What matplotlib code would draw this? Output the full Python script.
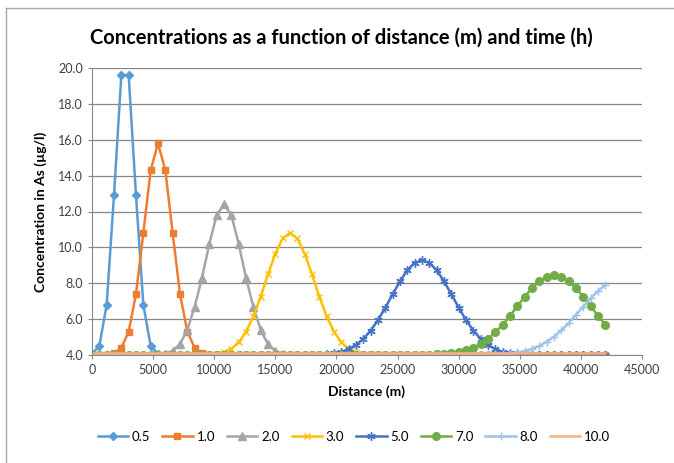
import matplotlib
matplotlib.use("Agg")
from matplotlib import pyplot as plt
from matplotlib.lines import Line2D

plt.rcParams['font.family'] = ['Lato', 'DejaVu Sans']

# sample distances (m)
distance_m = [
    0, 600, 1200, 1800, 2400, 3000, 3600, 4200, 4800, 5400,
    6000, 6600, 7200, 7800, 8400, 9000, 9600, 10200, 10800, 11400,
    12000, 12600, 13200, 13800, 14400, 15000, 15600, 16200, 16800, 17400,
    18000, 18600, 19200, 19800, 20400, 21000, 21600, 22200, 22800, 23400,
    24000, 24600, 25200, 25800, 26400, 27000, 27600, 28200, 28800, 29400,
    30000, 30600, 31200, 31800, 32400, 33000, 33600, 34200, 34800, 35400,
    36000, 36600, 37200, 37800, 38400, 39000, 39600, 40200, 40800, 41400,
    42000,
]

# concentration in As (ug/l) per time (h)
c_05 = [
    4.06, 4.5, 6.8, 12.9, 19.6, 19.6, 12.9, 6.8, 4.5, 4.06,
    4.0, 4.0, 4.0, 4.0, 4.0, 4.0, 4.0, 4.0, 4.0, 4.0,
    4.0, 4.0, 4.0, 4.0, 4.0, 4.0, 4.0, 4.0, 4.0, 4.0,
    4.0, 4.0, 4.0, 4.0, 4.0, 4.0, 4.0, 4.0, 4.0, 4.0,
    4.0, 4.0, 4.0, 4.0, 4.0, 4.0, 4.0, 4.0, 4.0, 4.0,
    4.0, 4.0, 4.0, 4.0, 4.0, 4.0, 4.0, 4.0, 4.0, 4.0,
    4.0, 4.0, 4.0, 4.0, 4.0, 4.0, 4.0, 4.0, 4.0, 4.0,
    4.0,
]
c_10 = [
    4.0, 4.0, 4.02, 4.09, 4.4, 5.3, 7.4, 10.8, 14.3, 15.8,
    14.3, 10.8, 7.4, 5.3, 4.4, 4.09, 4.02, 4.0, 4.0, 4.0,
    4.0, 4.0, 4.0, 4.0, 4.0, 4.0, 4.0, 4.0, 4.0, 4.0,
    4.0, 4.0, 4.0, 4.0, 4.0, 4.0, 4.0, 4.0, 4.0, 4.0,
    4.0, 4.0, 4.0, 4.0, 4.0, 4.0, 4.0, 4.0, 4.0, 4.0,
    4.0, 4.0, 4.0, 4.0, 4.0, 4.0, 4.0, 4.0, 4.0, 4.0,
    4.0, 4.0, 4.0, 4.0, 4.0, 4.0, 4.0, 4.0, 4.0, 4.0,
    4.0,
]
c_20 = [
    4.0, 4.0, 4.0, 4.0, 4.0, 4.0, 4.0, 4.0, 4.0, 4.02,
    4.08, 4.24, 4.6, 5.4, 6.7, 8.3, 10.2, 11.8, 12.4, 11.8,
    10.2, 8.3, 6.7, 5.4, 4.6, 4.24, 4.08, 4.02, 4.0, 4.0,
    4.0, 4.0, 4.0, 4.0, 4.0, 4.0, 4.0, 4.0, 4.0, 4.0,
    4.0, 4.0, 4.0, 4.0, 4.0, 4.0, 4.0, 4.0, 4.0, 4.0,
    4.0, 4.0, 4.0, 4.0, 4.0, 4.0, 4.0, 4.0, 4.0, 4.0,
    4.0, 4.0, 4.0, 4.0, 4.0, 4.0, 4.0, 4.0, 4.0, 4.0,
    4.0,
]
c_30 = [
    4.0, 4.0, 4.0, 4.0, 4.0, 4.0, 4.0, 4.0, 4.0, 4.0,
    4.0, 4.0, 4.0, 4.0, 4.0, 4.01, 4.03, 4.07, 4.16, 4.35,
    4.7, 5.3, 6.15, 7.25, 8.5, 9.65, 10.5, 10.8, 10.5, 9.65,
    8.5, 7.25, 6.15, 5.3, 4.7, 4.35, 4.16, 4.07, 4.03, 4.01,
    4.0, 4.0, 4.0, 4.0, 4.0, 4.0, 4.0, 4.0, 4.0, 4.0,
    4.0, 4.0, 4.0, 4.0, 4.0, 4.0, 4.0, 4.0, 4.0, 4.0,
    4.0, 4.0, 4.0, 4.0, 4.0, 4.0, 4.0, 4.0, 4.0, 4.0,
    4.0,
]
c_50 = [
    4.0, 4.0, 4.0, 4.0, 4.0, 4.0, 4.0, 4.0, 4.0, 4.0,
    4.0, 4.0, 4.0, 4.0, 4.0, 4.0, 4.0, 4.0, 4.0, 4.0,
    4.0, 4.0, 4.0, 4.0, 4.0, 4.0, 4.0, 4.0, 4.0, 4.0,
    4.01, 4.02, 4.05, 4.1, 4.18, 4.33, 4.56, 4.9, 5.36, 5.95,
    6.64, 7.39, 8.11, 8.73, 9.14, 9.28, 9.14, 8.73, 8.11, 7.39,
    6.64, 5.95, 5.36, 4.9, 4.56, 4.33, 4.18, 4.1, 4.05, 4.02,
    4.01, 4.0, 4.0, 4.0, 4.0, 4.0, 4.0, 4.0, 4.0, 4.0,
    4.0,
]
c_70 = [
    4.0, 4.0, 4.0, 4.0, 4.0, 4.0, 4.0, 4.0, 4.0, 4.0,
    4.0, 4.0, 4.0, 4.0, 4.0, 4.0, 4.0, 4.0, 4.0, 4.0,
    4.0, 4.0, 4.0, 4.0, 4.0, 4.0, 4.0, 4.0, 4.0, 4.0,
    4.0, 4.0, 4.0, 4.0, 4.0, 4.0, 4.0, 4.0, 4.0, 4.0,
    4.0, 4.0, 4.0, 4.0, 4.0, 4.0, 4.01, 4.03, 4.05, 4.09,
    4.16, 4.26, 4.41, 4.62, 4.9, 5.26, 5.69, 6.19, 6.72, 7.25,
    7.73, 8.12, 8.37, 8.46, 8.37, 8.12, 7.73, 7.25, 6.72, 6.19,
    5.69,
]
c_80 = [
    4.0, 4.0, 4.0, 4.0, 4.0, 4.0, 4.0, 4.0, 4.0, 4.0,
    4.0, 4.0, 4.0, 4.0, 4.0, 4.0, 4.0, 4.0, 4.0, 4.0,
    4.0, 4.0, 4.0, 4.0, 4.0, 4.0, 4.0, 4.0, 4.0, 4.0,
    4.0, 4.0, 4.0, 4.0, 4.0, 4.0, 4.0, 4.0, 4.0, 4.0,
    4.0, 4.0, 4.0, 4.0, 4.0, 4.0, 4.0, 4.0, 4.0, 4.0,
    4.0, 4.0, 4.0, 4.01, 4.02, 4.03, 4.05, 4.08, 4.14, 4.22,
    4.34, 4.51, 4.74, 5.02, 5.37, 5.78, 6.24, 6.7, 7.16, 7.57,
    7.89,
]
c_100 = [
    4.1, 4.1, 4.1, 4.1, 4.1, 4.1, 4.1, 4.1, 4.1, 4.1,
    4.1, 4.1, 4.1, 4.1, 4.1, 4.1, 4.1, 4.1, 4.1, 4.1,
    4.1, 4.1, 4.1, 4.1, 4.1, 4.1, 4.1, 4.1, 4.1, 4.1,
    4.1, 4.1, 4.1, 4.1, 4.1, 4.1, 4.1, 4.1, 4.1, 4.1,
    4.1, 4.1, 4.1, 4.1, 4.1, 4.1, 4.1, 4.1, 4.1, 4.1,
    4.1, 4.1, 4.1, 4.1, 4.1, 4.1, 4.1, 4.1, 4.1, 4.1,
    4.1, 4.1, 4.1, 4.1, 4.1, 4.1, 4.1, 4.1, 4.1, 4.1,
    4.1,
]

series_labels = ["0.5", "1.0", "2.0", "3.0", "5.0", "7.0", "8.0", "10.0"]
series_values = [c_05, c_10, c_20, c_30, c_50, c_70, c_80, c_100]
colors = ["#5B9BD5", "#ED7D31", "#A5A5A5", "#FFC000",
          "#4472C4", "#70AD47", "#9DC3E6", "#F4B183"]
markers = ["D", "s", "^", "x", (6, 2, 0), "o", "+", "None"]
msizes = [4, 5, 5.5, 5, 6, 5.5, 6, 0]

fig = plt.figure(figsize=(6.74, 4.63), dpi=100)
ax = fig.add_axes([92 / 674, 1 - 355 / 463, 550 / 674, 287 / 463])

for vals, lab, col, mk, ms in zip(series_values, series_labels, colors, markers, msizes):
    ax.plot(distance_m, vals, color=col, lw=1.8, marker=mk, ms=ms,
            mew=1.0, label=lab)

ax.set_xlim(0, 45000)
ax.set_ylim(4, 20)
ax.set_xticks(range(0, 45001, 5000))
ax.set_yticks(range(4, 21, 2))
ax.set_yticklabels(["%.1f" % v for v in range(4, 21, 2)])
ax.grid(axis='y', color='#878787', lw=0.9)
ax.set_axisbelow(True)
for s in ['top', 'right']:
    ax.spines[s].set_visible(False)
for s in ['left', 'bottom']:
    ax.spines[s].set_color('#878787')
ax.tick_params(axis='both', labelsize=9, colors='#878787', labelcolor='#404040',
               length=3)

ax.set_xlabel("Distance (m)", fontsize=10, fontweight='bold', labelpad=7)
ax.set_ylabel("Concentration in As (µg/l)", fontsize=10, fontweight='bold',
              labelpad=8)
fig.text(341 / 674, 1 - 38 / 463,
         "Concentrations as a function of distance (m) and time (h)",
         ha='center', va='center', fontsize=14.5, fontweight='bold')

fig.legend(loc='center', bbox_to_anchor=(354 / 674, 1 - 437 / 463), ncol=8,
           frameon=False, fontsize=9.5, handlelength=2.3, columnspacing=0.9,
           handletextpad=0.3)

# chart area border
fig.add_artist(Line2D([6 / 674, 6 / 674], [0, 1 - 8 / 463], color='#a6a6a6',
                      lw=1, transform=fig.transFigure))
fig.add_artist(Line2D([6 / 674, 1], [1 - 8 / 463, 1 - 8 / 463], color='#a6a6a6',
                      lw=1, transform=fig.transFigure))

fig.savefig("out.png", dpi=100)
